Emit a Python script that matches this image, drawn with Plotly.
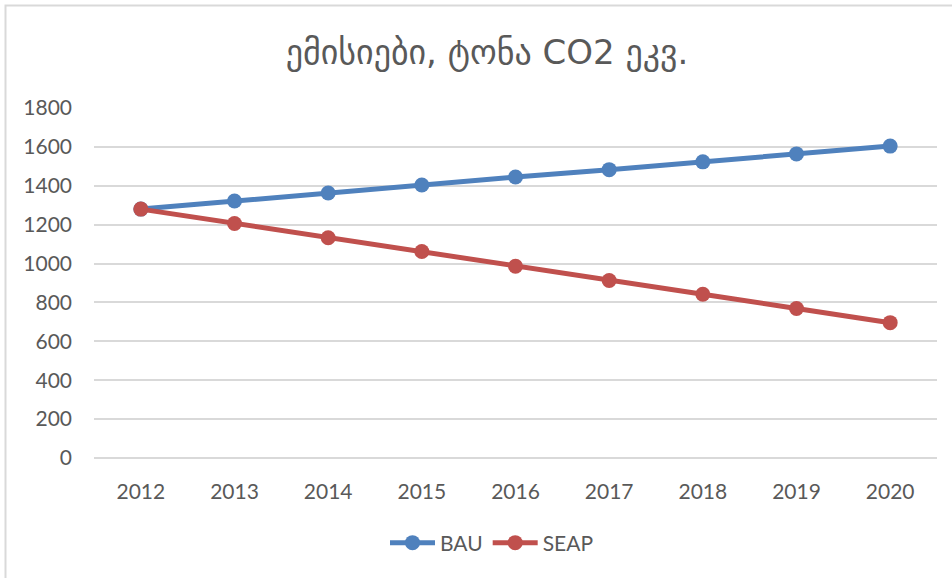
import plotly.graph_objects as go

years = ["2012", "2013", "2014", "2015", "2016", "2017", "2018", "2019", "2020"]
bau = [1280, 1322, 1363, 1404, 1445, 1483, 1523, 1564, 1604]
seap = [1280, 1206, 1133, 1062, 986, 913, 842, 769, 696]
y_ticks = [0, 200, 400, 600, 800, 1000, 1200, 1400, 1600, 1800]

W, H = 952, 578
ml, mr, mt, mb = 94, 15, 108, 120
pw = W - ml - mr
ph = H - mt - mb


def px_x(p):
    return (p - ml) / pw


def px_y(p):
    return (mt + ph - p) / ph


fig = go.Figure()
fig.add_trace(go.Scatter(x=years, y=bau, name="BAU", mode="lines+markers",
                         line=dict(color="#4F81BD", width=5),
                         marker=dict(size=15, color="#4F81BD")))
fig.add_trace(go.Scatter(x=years, y=seap, name="SEAP", mode="lines+markers",
                         line=dict(color="#C0504D", width=5),
                         marker=dict(size=15, color="#C0504D")))

# outer chart frame (only top and left edges visible in the reference)
fig.add_shape(type="rect", xref="paper", yref="paper",
              x0=px_x(5.5), x1=px_x(W + 20),
              y0=px_y(H + 20), y1=px_y(5.5),
              line=dict(color="#d9d9d9", width=2), layer="below")

fig.update_layout(
    width=W, height=H,
    margin=dict(l=ml, r=mr, t=mt, b=mb),
    paper_bgcolor="white", plot_bgcolor="white",
    title=dict(text="ემისიები, ტონა CO2 ეკვ.", xref="container", x=487 / W,
               xanchor="center", yref="container", y=1 - 52 / H, yanchor="middle",
               font=dict(family="DejaVu Sans", size=34, color="#595959")),
    font=dict(family="Lato, Liberation Sans, sans-serif", size=21, color="#595959"),
    showlegend=True,
    legend=dict(orientation="h", x=px_x(492), xanchor="center", y=px_y(543),
                yanchor="middle", font=dict(size=21, color="#595959"),
                itemwidth=45),
    xaxis=dict(type="category", range=[-0.5, 8.5], showgrid=False, showline=False,
               zeroline=False, ticks="", ticklabelstandoff=19,
               tickfont=dict(size=21, color="#595959")),
    yaxis=dict(range=[0, 1800], tickvals=y_ticks, showgrid=True,
               gridcolor="#d9d9d9", gridwidth=1.5, zeroline=True,
               zerolinecolor="#d9d9d9", zerolinewidth=1.5, showline=False,
               ticks="", ticklabelstandoff=21,
               tickfont=dict(size=21, color="#595959")),
)

fig.write_html("out.html", config={"displayModeBar": False},
               post_script="document.body.style.margin='0';")
